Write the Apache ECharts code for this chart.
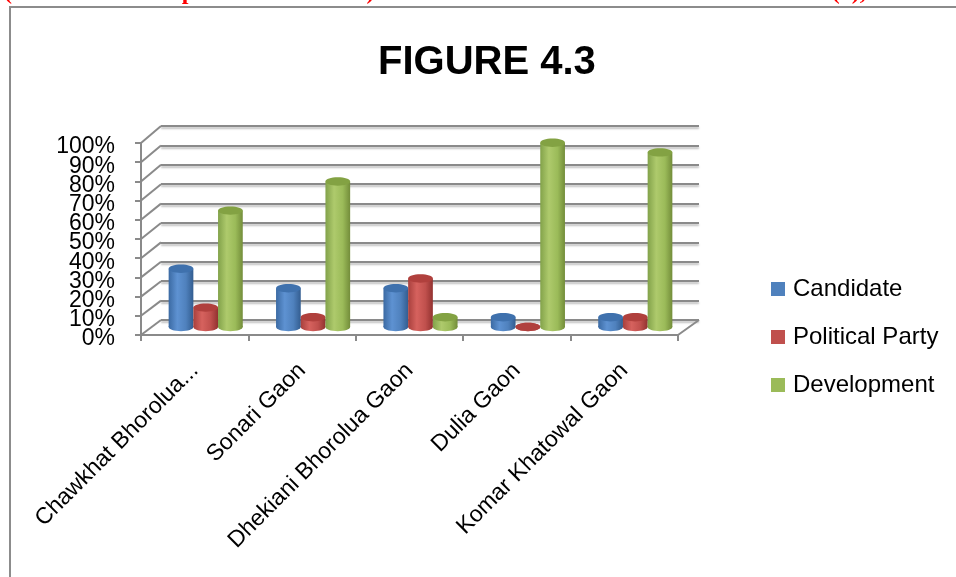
<!DOCTYPE html>
<html>
<head>
<meta charset="utf-8">
<script src="https://cdn.jsdelivr.net/npm/echarts@6/dist/echarts.min.js"></script>
<style>
  html, body { margin: 0; padding: 0; background: #fff; }
  #chart { width: 956px; height: 577px; }
</style>
</head>
<body>
<div id="chart"></div>
<script>
  // data
  var categories = ['Chawkhat Bhorolua...', 'Sonari Gaon', 'Dhekiani Bhorolua Gaon', 'Dulia Gaon', 'Komar Khatowal Gaon'];
  var candidate = [30, 20, 20, 5, 5];
  var politicalParty = [10, 5, 25, 0, 5];
  var development = [60, 75, 5, 95, 90];
  var seriesNames = ['Candidate', 'Political Party', 'Development'];

  var font = 'Liberation Sans';

  // front plane, back wall, the plane where the cylinders stand,
  // and a slightly lower copy of the front plane for the % labels
  var front = { left: 141, right: 278, top: 143, bottom: 242 };
  var back = { left: 161, right: 257, top: 126, bottom: 257 };
  var mid = { left: 152, right: 267, top: 133, bottom: 250 };
  var labels = { left: 141, right: 278, top: 147, bottom: 238 };

  var shades = [
    { stops: ['#3b6aa3', '#5e92d2', '#4f81bd', '#335d90'], top: '#3f71ad', legend: '#4f81bd' },
    { stops: ['#a8403d', '#d6625e', '#c0504d', '#923230'], top: '#b0403d', legend: '#c0504d' },
    { stops: ['#82a24a', '#aeca6c', '#9bbb59', '#738d3a'], top: '#83a243', legend: '#9bbb59' }
  ];

  function grad(stops) {
    return new echarts.graphic.LinearGradient(0, 0, 1, 0, [
      { offset: 0, color: stops[0] },
      { offset: 0.35, color: stops[1] },
      { offset: 0.7, color: stops[2] },
      { offset: 1, color: stops[3] }
    ]);
  }

  function cylinder(k) {
    return function (params, api) {
      var idx = api.value(0);
      var base = api.coord([idx, 0]);
      var top = api.coord([idx, api.value(1)]);
      var band = api.size([1, 0])[0];
      var w = band * 0.23;
      var cx = base[0] + (k - 1) * w;
      var ry = w * 0.17;
      var fill = grad(shades[k].stops);
      return {
        type: 'group',
        children: [
          { type: 'ellipse', shape: { cx: cx, cy: base[1], rx: w / 2, ry: ry }, style: { fill: fill } },
          { type: 'rect', shape: { x: cx - w / 2, y: top[1], width: w, height: base[1] - top[1] }, style: { fill: fill } },
          { type: 'ellipse', shape: { cx: cx, cy: top[1], rx: w / 2, ry: ry }, style: { fill: shades[k].top } }
        ]
      };
    };
  }

  function pairs(arr) {
    return arr.map(function (v, i) { return [i, v]; });
  }

  var values = [candidate, politicalParty, development];
  var series = values.map(function (arr, k) {
    return {
      name: seriesNames[k],
      type: 'custom',
      xAxisIndex: 2,
      yAxisIndex: 2,
      itemStyle: { color: shades[k].legend },
      renderItem: cylinder(k),
      encode: { x: 0, y: 1 },
      data: pairs(arr),
      z: 5
    };
  });

  var gridLine = { color: '#8a8a8a', width: 2, shadowColor: 'rgba(0,0,0,0.25)', shadowBlur: 2, shadowOffsetY: 2 };

  // the labels sit closer than their own height, so they are split over two
  // stacked axes (even and odd tens) to keep ECharts from dropping any
  function pctLabel(odd) {
    return function (v) {
      return ((v / 10) % 2 === 1) === odd ? v + '%' : '';
    };
  }
  function labelAxis(odd) {
    return {
      gridIndex: 3,
      type: 'value',
      min: 0,
      max: 100,
      interval: 10,
      position: 'left',
      axisLine: { show: false },
      axisTick: { show: false },
      splitLine: { show: false },
      axisLabel: { formatter: pctLabel(odd), margin: 26, fontFamily: font, fontSize: 23, color: '#000' }
    };
  }

  var chart = echarts.init(document.getElementById('chart'));
  chart.setOption({
    animation: false,
    backgroundColor: '#fff',
    title: {
      text: 'FIGURE 4.3',
      left: 378,
      top: 43,
      padding: 0,
      textStyle: { fontFamily: font, fontWeight: 'bold', fontSize: 40, color: '#000' }
    },
    legend: {
      orient: 'vertical',
      left: 771,
      top: 277,
      padding: 0,
      itemWidth: 14,
      itemHeight: 14,
      itemGap: 24,
      icon: 'rect',
      data: seriesNames,
      textStyle: { fontFamily: font, fontSize: 24, color: '#000', padding: [0, 0, 0, 3] }
    },
    grid: [front, back, mid, labels],
    xAxis: [
      {
        gridIndex: 0,
        type: 'category',
        data: categories,
        axisLine: { lineStyle: { color: '#8a8a8a', width: 2 } },
        axisTick: { show: true, length: 6, lineStyle: { color: '#8a8a8a', width: 2 } },
        axisLabel: { rotate: 45, margin: 32, interval: 0, fontFamily: font, fontSize: 23, color: '#000' }
      },
      { gridIndex: 1, type: 'category', data: categories, show: false },
      { gridIndex: 2, type: 'category', data: categories, show: false },
      { gridIndex: 3, type: 'category', data: categories, show: false }
    ],
    yAxis: [
      {
        gridIndex: 0,
        type: 'value',
        min: 0,
        max: 100,
        interval: 10,
        axisLine: { show: true, lineStyle: { color: '#8a8a8a', width: 2 } },
        axisTick: { show: true, length: 6, lineStyle: { color: '#8a8a8a', width: 2 } },
        splitLine: { show: false },
        axisLabel: { show: false }
      },
      {
        gridIndex: 1,
        type: 'value',
        min: 0,
        max: 100,
        interval: 10,
        axisLine: { show: false },
        axisTick: { show: false },
        axisLabel: { show: false },
        splitLine: { show: true, lineStyle: gridLine }
      },
      { gridIndex: 2, type: 'value', min: 0, max: 100, show: false, splitLine: { show: false } },
      labelAxis(false),
      labelAxis(true)
    ],
    series: series
  });

  // side wall and floor edges joining the front plane to the back wall
  var edges = [];
  for (var v = 0; v <= 100; v += 10) {
    var yf = chart.convertToPixel({ yAxisIndex: 0 }, v);
    var yb = chart.convertToPixel({ yAxisIndex: 1 }, v);
    edges.push({
      type: 'line',
      shape: { x1: front.left, y1: yf, x2: back.left, y2: yb },
      style: { stroke: '#8a8a8a', lineWidth: 2 },
      z: 1
    });
  }
  var y0f = chart.convertToPixel({ yAxisIndex: 0 }, 0);
  var y0b = chart.convertToPixel({ yAxisIndex: 1 }, 0);
  edges.push({
    type: 'line',
    shape: { x1: 956 - front.right, y1: y0f, x2: 956 - back.right, y2: y0b },
    style: { stroke: '#8a8a8a', lineWidth: 2 },
    z: 1
  });

  chart.setOption({
    graphic: [
      { type: 'rect', shape: { x: 10, y: 7, width: 960, height: 600 }, style: { fill: 'none', stroke: '#8c8c8c', lineWidth: 2 }, z: 0 },
      { type: 'text', x: 4, y: -19, style: { text: '(UGC Care Group I Listed Journal)', fill: '#ff0000', font: 'bold 24px "Liberation Serif"' }, z: 10 },
      { type: 'text', x: 760, y: -19, style: { text: 'Vol-10 (7), Issue', fill: '#ff0000', font: 'bold 24px "Liberation Serif"' }, z: 10 }
    ].concat(edges)
  });
</script>
</body>
</html>
